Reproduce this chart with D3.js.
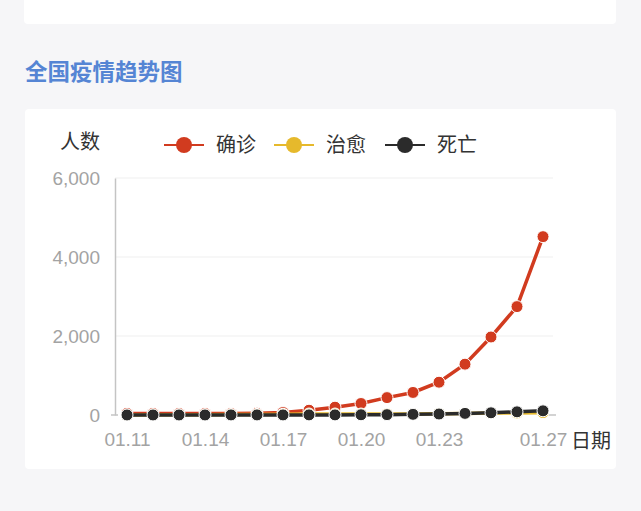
<!DOCTYPE html>
<html>
<head>
<meta charset="utf-8">
<script src="https://cdn.jsdelivr.net/npm/d3@7"></script>
<style>
  body { margin: 0; background: #f6f6f8; }
  svg { display: block; font-family: "Noto Sans CJK SC", "Noto Sans", sans-serif; }
</style>
</head>
<body>
<svg id="chart"></svg>
<script>
// data
const dates = ["01.11","01.12","01.13","01.14","01.15","01.16","01.17","01.18","01.19",
  "01.20","01.21","01.22","01.23","01.24","01.25","01.26","01.27"];
const confirmed = [41,41,41,41,41,45,62,121,198,291,440,571,830,1287,1975,2744,4515];
const cured = [2,6,7,7,12,15,19,25,25,25,25,28,34,38,49,51,60];
const dead = [1,1,1,1,2,2,2,3,3,6,9,17,25,41,56,80,106];
const tickLabels = ["01.11","01.14","01.17","01.20","01.23","01.27"];
const yTicks = [0, 2000, 4000, 6000];

const seriesNames = ["确诊", "治愈", "死亡"];
const seriesColors = ["#d13b1f", "#e6b92c", "#2b2b2b"];
const series = [confirmed, cured, dead];

const W = 641, H = 511;
const svg = d3.select("#chart").attr("width", W).attr("height", H);

// top card + chart card
svg.append("rect").attr("x", 24).attr("y", -10).attr("width", 592).attr("height", 34)
  .attr("rx", 4).attr("fill", "#fff");
svg.append("text").attr("x", 25).attr("y", 80)
  .attr("font-size", 22.5).attr("font-weight", "bold").attr("fill", "#5585d4")
  .text("全国疫情趋势图");
svg.append("rect").attr("x", 25).attr("y", 109).attr("width", 591).attr("height", 360)
  .attr("rx", 4).attr("fill", "#fff");

const x = d3.scalePoint().domain(dates).range([127, 543]);
const y = d3.scaleLinear().domain([0, 6000]).range([415, 178]);

// gridlines
svg.append("g").selectAll("line").data(yTicks.slice(1)).join("line")
  .attr("x1", 115).attr("x2", 553)
  .attr("y1", d => y(d)).attr("y2", d => y(d))
  .attr("stroke", "#efefef").attr("stroke-width", 1);

// y axis
const yAxis = svg.append("g").attr("transform", "translate(115,0)")
  .call(d3.axisLeft(y).tickValues(yTicks).tickFormat(d3.format(",")).tickSize(0).tickPadding(15));
yAxis.select(".domain").attr("stroke", "#c4c4c4").attr("stroke-width", 1.5);
yAxis.selectAll("text").attr("font-size", 19).attr("fill", "#a3a3a3")
  .attr("font-family", "'Liberation Sans', Arial, sans-serif");
svg.append("line").attr("x1", 111).attr("x2", 118).attr("y1", y(0)).attr("y2", y(0))
  .attr("stroke", "#c4c4c4").attr("stroke-width", 1.5);
svg.append("line").attr("x1", 547).attr("x2", 556).attr("y1", y(0)).attr("y2", y(0))
  .attr("stroke", "#c4c4c4").attr("stroke-width", 1.5);

// x axis labels
const xAxis = svg.append("g").attr("transform", "translate(0,415)")
  .call(d3.axisBottom(x).tickValues(tickLabels).tickSize(0).tickPadding(18));
xAxis.select(".domain").remove();
xAxis.selectAll("text").attr("font-size", 19).attr("fill", "#a3a3a3")
  .attr("font-family", "'Liberation Sans', Arial, sans-serif");

svg.append("text").attr("x", 100).attr("y", 149).attr("text-anchor", "end")
  .attr("font-size", 20).attr("fill", "#333").text("人数");
svg.append("text").attr("x", 571).attr("y", 448)
  .attr("font-size", 20).attr("fill", "#333").text("日期");

// lines
const line = d3.line().x((d, i) => x(dates[i])).y(d => y(d));
series.forEach((vals, k) => {
  const g = svg.append("g");
  g.append("path").datum(vals).attr("d", line)
    .attr("fill", "none").attr("stroke", seriesColors[k]).attr("stroke-width", 3.5);
  g.selectAll("circle").data(vals).join("circle")
    .attr("cx", (d, i) => x(dates[i])).attr("cy", d => y(d)).attr("r", 6)
    .attr("fill", seriesColors[k]).attr("stroke", "#fff").attr("stroke-width", 1);
});

// legend
const legendX = [164, 274, 385];
const legend = svg.append("g");
seriesNames.forEach((name, k) => {
  const lx = legendX[k];
  legend.append("line").attr("x1", lx).attr("x2", lx + 40).attr("y1", 145).attr("y2", 145)
    .attr("stroke", seriesColors[k]).attr("stroke-width", 2);
  legend.append("circle").attr("cx", lx + 20).attr("cy", 145).attr("r", 8)
    .attr("fill", seriesColors[k]);
  legend.append("text").attr("x", lx + 52).attr("y", 152)
    .attr("font-size", 20).attr("fill", "#333").text(name);
});
</script>
</body>
</html>
